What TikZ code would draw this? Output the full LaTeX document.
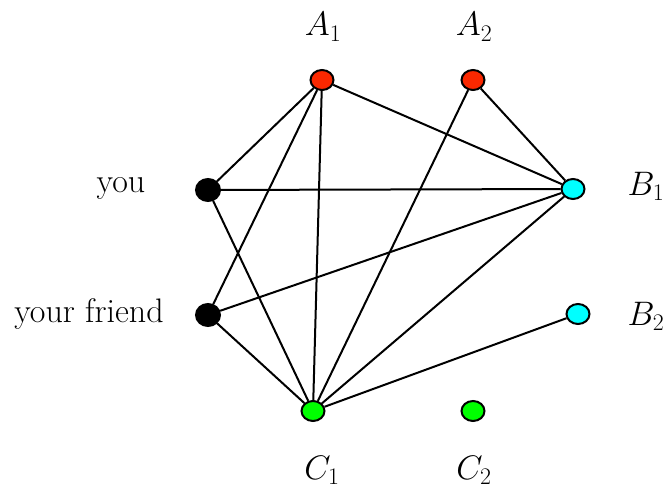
\RequirePackage{fix-cm}
\documentclass[tikz,border=0pt]{standalone}
\usetikzlibrary{shapes.geometric}
\definecolor{nred}{RGB}{250,40,0}
\definecolor{ngreen}{RGB}{0,255,0}
\definecolor{ncyan}{RGB}{0,255,255}
\begin{document}
\begin{tikzpicture}[x=1pt,y=-1pt,
  vtx/.style={ellipse,draw=black,line width=2pt,minimum width=23pt,minimum height=20pt,inner sep=0pt},
  lab/.style={font=\fontsize{34}{40}\selectfont,inner sep=0pt,anchor=base},
  edge/.style={line width=2pt}]
\useasboundingbox (0,0) rectangle (665,495);
\node[vtx,fill=nred] (A1) at (322,80) {};
\node[vtx,fill=nred] (A2) at (473,80) {};
\node[vtx,fill=black,minimum width=24pt,minimum height=22pt] (you) at (208,190) {};
\node[vtx,fill=black,minimum width=24pt,minimum height=22pt] (fr) at (208,315) {};
\node[vtx,fill=ncyan] (B1) at (573,189) {};
\node[vtx,fill=ncyan] (B2) at (578,314) {};
\node[vtx,fill=ngreen] (C1) at (313,411) {};
\node[vtx,fill=ngreen] (C2) at (473,411) {};
\node[lab] (lA1) at (323,36) {$A_1$};
\node[lab] (lA2) at (474,36) {$A_2$};
\node[lab] (lyou) at (121,193) {you};
\node[lab] (lfr) at (89,322) {your friend};
\node[lab] (lB1) at (646,195) {$B_1$};
\node[lab] (lB2) at (646,325) {$B_2$};
\node[lab] (lC1) at (322,479) {$C_1$};
\node[lab] (lC2) at (474,479) {$C_2$};
\draw[edge] (A1) -- (you);
\draw[edge] (A1) -- (fr);
\draw[edge] (A1) -- (C1);
\draw[edge] (A1) -- (B1);
\draw[edge] (A2) -- (B1);
\draw[edge] (A2) -- (C1);
\draw[edge] (you) -- (B1);
\draw[edge] (you) -- (C1);
\draw[edge] (fr) -- (B1);
\draw[edge] (fr) -- (C1);
\draw[edge] (C1) -- (B1);
\draw[edge] (C1) -- (B2);
\end{tikzpicture}
\end{document}
